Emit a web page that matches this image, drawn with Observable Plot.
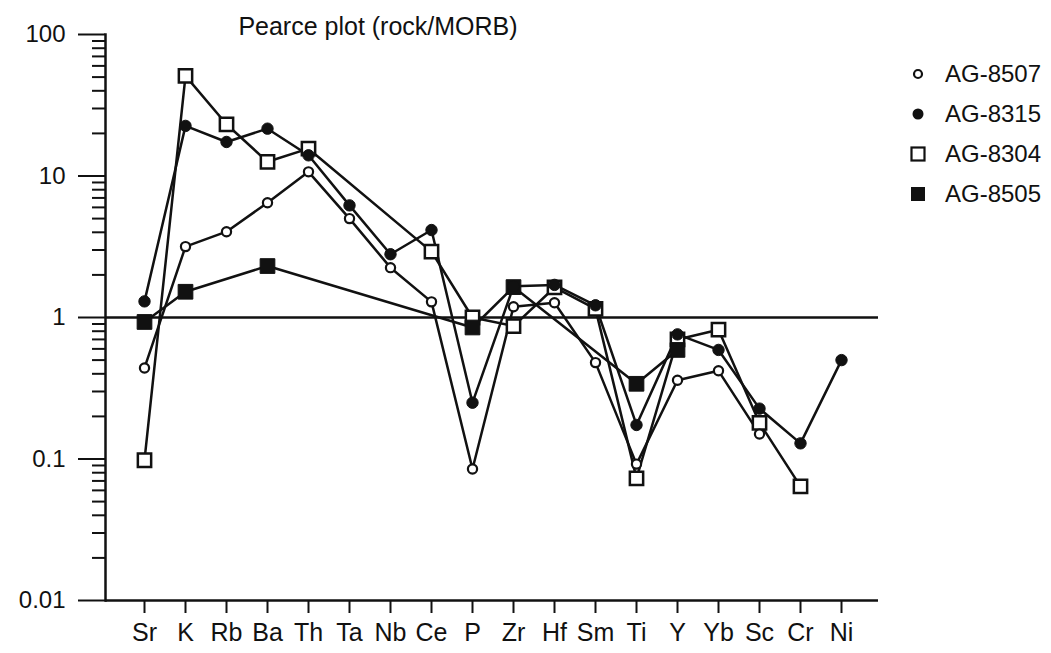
<!DOCTYPE html>
<html>
<head>
<meta charset="utf-8">
<script src="https://cdn.jsdelivr.net/npm/d3@7"></script>
<script src="https://cdn.jsdelivr.net/npm/@observablehq/plot@0.6"></script>
<style>
  html, body { margin: 0; padding: 0; background: #fff; }
  #wrap { position: relative; width: 1051px; height: 653px; font-family: "Liberation Sans", Arial, Helvetica, sans-serif; color: #111; }
  #chart { position: absolute; left: 0; top: 0; }
  #title { position: absolute; left: 378px; top: 12px; transform: translateX(-50%); font-size: 25px; line-height: 28px; white-space: nowrap; }
  .leg { position: absolute; left: 906px; height: 26px; display: flex; align-items: center; font-size: 24px; line-height: 26px; white-space: nowrap; }
  .leg svg { width: 24px; height: 26px; margin-right: 15px; }
</style>
</head>
<body>
<div id="wrap">
  <div id="chart"></div>
  <div id="title">Pearce plot (rock/MORB)</div>
  <div id="legend"></div>
</div>
<script>
// Elements (x categories)
const elements = ["Sr","K","Rb","Ba","Th","Ta","Nb","Ce","P","Zr","Hf","Sm","Ti","Y","Yb","Sc","Cr","Ni"];

// Sample / MORB ratios (null = not plotted)
const ag8507 = [0.44, 3.17, 4.04, 6.47, 10.7, 5.0, 2.25, 1.29, 0.085, 1.19, 1.27, 0.48, 0.092, 0.36, 0.42, 0.15, null, null];
const ag8315 = [1.3, 22.6, 17.4, 21.6, 14.0, 6.2, 2.8, 4.15, 0.25, 1.66, 1.7, 1.22, 0.174, 0.76, 0.59, 0.227, 0.129, 0.50];
const ag8304 = [0.098, 51, 23.2, 12.6, 15.6, null, null, 2.92, 1.0, 0.87, 1.63, 1.15, 0.073, 0.70, 0.82, 0.18, 0.064, null];
const ag8505 = [0.93, 1.52, null, 2.31, null, null, null, null, 0.85, 1.64, null, null, 0.34, 0.59, null, null, null, null];

const seriesNames = ["AG-8507", "AG-8315", "AG-8304", "AG-8505"];
const majorTicks = [0.01, 0.1, 1, 10, 100];

const seriesValues = {"AG-8507": ag8507, "AG-8315": ag8315, "AG-8304": ag8304, "AG-8505": ag8505};
const rows = seriesNames.flatMap(name =>
  seriesValues[name].map((v, i) => ({name, el: elements[i], v})).filter(d => d.v != null)
);
const minorTicks = majorTicks.slice(0, -1).flatMap(m => d3.range(2, 10).map(k => +(m * k).toPrecision(3)));

const ink = "#111";
const of = n => rows.filter(d => d.name === n);

const chart = Plot.plot({
  width: 1051,
  height: 653,
  marginLeft: 105,
  marginRight: 173,
  marginTop: 34,
  marginBottom: 53,
  style: {fontFamily: '"Liberation Sans", Arial, Helvetica, sans-serif', color: ink, background: "white", overflow: "visible"},
  x: {type: "point", domain: elements, range: [144, 841], padding: 0},
  y: {type: "log", domain: [0.01, 100]},
  marks: [
    Plot.axisY({ticks: majorTicks, tickSize: 27, tickPadding: 13, tickFormat: d => String(d), fontSize: 24, strokeWidth: 2, label: null}),
    Plot.axisY({ticks: minorTicks, tickSize: 13, tickFormat: () => "", strokeWidth: 2, label: null}),
    Plot.axisX({tickSize: 13, tickPadding: 10, fontSize: 25, strokeWidth: 2, label: null}),
    Plot.frame({anchor: "left", stroke: ink, strokeWidth: 2.5}),
    Plot.ruleY([0.01], {stroke: ink, strokeWidth: 2.5}),
    Plot.ruleY([1], {stroke: ink, strokeWidth: 2.5}),
    Plot.line(rows, {x: "el", y: "v", z: "name", stroke: ink, strokeWidth: 2.5}),
    Plot.dot(of("AG-8304"), {x: "el", y: "v", symbol: "square", r: 7.5, fill: "white", stroke: ink, strokeWidth: 2.5}),
    Plot.dot(of("AG-8505"), {x: "el", y: "v", symbol: "square", r: 8.3, fill: ink, stroke: ink, strokeWidth: 1}),
    Plot.dot(of("AG-8315"), {x: "el", y: "v", symbol: "circle", r: 5.7, fill: ink, stroke: ink, strokeWidth: 1}),
    Plot.dot(of("AG-8507"), {x: "el", y: "v", symbol: "circle", r: 4.6, fill: "white", stroke: ink, strokeWidth: 2.2})
  ]
});
document.getElementById("chart").appendChild(chart);

// Legend
const legendMarks = {
  "AG-8507": '<circle cx="12" cy="13" r="4" fill="white" stroke="#111" stroke-width="2.2"/>',
  "AG-8315": '<circle cx="12" cy="13" r="5.5" fill="#111"/>',
  "AG-8304": '<rect x="5.5" y="6.5" width="13" height="13" fill="white" stroke="#111" stroke-width="2.2"/>',
  "AG-8505": '<rect x="5" y="6" width="14" height="14" fill="#111"/>'
};
const legendTops = [61, 101, 141, 181];
const legend = document.getElementById("legend");
seriesNames.forEach((name, i) => {
  const row = document.createElement("div");
  row.className = "leg";
  row.style.top = legendTops[i] + "px";
  row.innerHTML = '<svg viewBox="0 0 24 26">' + legendMarks[name] + '</svg><span>' + name + '</span>';
  legend.appendChild(row);
});
</script>
</body>
</html>
